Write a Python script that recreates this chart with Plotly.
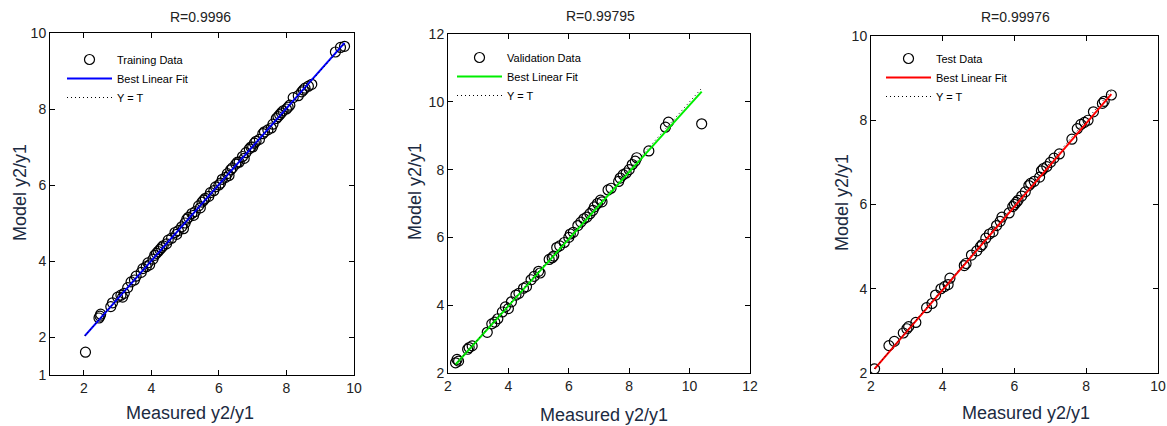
import plotly.graph_objects as go

W = 1167
H = 426

# ---- data ----
train_x = [2.05, 2.45, 2.48, 2.5, 2.8, 2.85, 3.0, 3.1, 3.15, 3.2, 3.3, 3.4, 3.5, 3.55, 3.7,
           3.75, 3.85, 3.9, 3.95, 4.05, 4.1, 4.15, 4.2, 4.25, 4.3, 4.35, 4.45, 4.5, 4.6, 4.7,
           4.75, 4.8, 4.9, 4.95, 5.0, 5.05, 5.1, 5.2, 5.25, 5.3, 5.4, 5.45, 5.5, 5.55, 5.6,
           5.7, 5.75, 5.85, 5.9, 6.0, 6.05, 6.1, 6.2, 6.25, 6.3, 6.35, 6.4, 6.5, 6.55, 6.6,
           6.7, 6.75, 6.8, 6.9, 6.95, 7.0, 7.05, 7.1, 7.2, 7.3, 7.35, 7.45, 7.55, 7.6, 7.7,
           7.75, 7.8, 7.85, 7.9, 8.0, 8.05, 8.1, 8.2, 8.35, 8.45, 8.5, 8.55, 8.65, 8.75,
           9.45, 9.6, 9.72]
train_y = [1.6, 2.5, 2.55, 2.6, 2.8, 2.9, 3.05, 3.1, 3.05, 3.15, 3.3, 3.45, 3.5, 3.6, 3.7,
           3.8, 3.85, 3.95, 3.9, 4.05, 4.15, 4.2, 4.25, 4.3, 4.35, 4.4, 4.45, 4.55, 4.6, 4.75,
           4.7, 4.8, 4.9, 4.85, 5.0, 5.1, 5.15, 5.25, 5.2, 5.3, 5.45, 5.4, 5.55, 5.6, 5.65,
           5.7, 5.8, 5.85, 5.95, 6.0, 6.05, 6.15, 6.2, 6.3, 6.25, 6.4, 6.45, 6.55, 6.6, 6.6,
           6.75, 6.7, 6.85, 6.95, 7.0, 7.0, 7.1, 7.15, 7.2, 7.35, 7.4, 7.45, 7.5, 7.6, 7.75,
           7.8, 7.85, 7.9, 7.95, 8.0, 8.05, 8.1, 8.3, 8.35, 8.45, 8.5, 8.55, 8.6, 8.65,
           9.5, 9.62, 9.65]
train_fit_x = [2.03, 9.72]
train_fit_y = [2.03, 9.74]
train_yt = [2.03, 9.72]

val_x = [2.25, 2.3, 2.35, 2.65, 2.7, 2.8, 3.3, 3.45, 3.55, 3.65, 3.8, 3.9, 4.0, 4.1, 4.25,
         4.35, 4.5, 4.6, 4.75, 4.85, 5.0, 5.05, 5.35, 5.45, 5.5, 5.6, 5.7, 5.85, 6.0, 6.05,
         6.15, 6.3, 6.4, 6.5, 6.6, 6.7, 6.8, 6.85, 6.95, 7.05, 7.1, 7.3, 7.4, 7.65, 7.7,
         7.8, 7.9, 8.0, 8.1, 8.2, 8.25, 8.65, 9.2, 9.3, 10.4]
val_y = [2.3, 2.4, 2.35, 2.7, 2.75, 2.8, 3.2, 3.45, 3.5, 3.6, 3.8, 3.95, 3.9, 4.1, 4.3,
         4.35, 4.5, 4.55, 4.75, 4.85, 5.0, 4.95, 5.35, 5.4, 5.45, 5.7, 5.75, 5.85, 6.0, 6.1,
         6.15, 6.35, 6.45, 6.55, 6.6, 6.7, 6.8, 6.9, 7.0, 7.1, 7.05, 7.4, 7.45, 7.65, 7.75,
         7.85, 7.9, 8.0, 8.15, 8.25, 8.35, 8.55, 9.25, 9.4, 9.35]
val_fit_x = [2.25, 10.4]
val_fit_y = [2.25, 10.3]
val_yt = [2.25, 10.4]

test_x = [2.1, 2.5, 2.65, 2.9, 3.0, 3.05, 3.25, 3.55, 3.7, 3.8, 3.95, 4.05, 4.15, 4.2,
          4.6, 4.65, 4.8, 4.95, 5.05, 5.1, 5.2, 5.3, 5.4, 5.5, 5.6, 5.65, 5.85, 5.95, 6.0,
          6.05, 6.1, 6.2, 6.3, 6.4, 6.45, 6.55, 6.7, 6.75, 6.8, 6.9, 7.0, 7.1, 7.25, 7.6,
          7.75, 7.85, 7.95, 8.05, 8.2, 8.45, 8.5, 8.7]
test_y = [2.1, 2.65, 2.75, 2.95, 3.05, 3.1, 3.2, 3.55, 3.65, 3.85, 4.0, 4.05, 4.1, 4.25,
          4.55, 4.6, 4.8, 4.9, 5.0, 5.05, 5.2, 5.3, 5.35, 5.5, 5.6, 5.7, 5.8, 5.95, 6.0,
          6.05, 6.1, 6.2, 6.3, 6.45, 6.5, 6.55, 6.65, 6.8, 6.85, 6.9, 7.0, 7.1, 7.2, 7.55,
          7.8, 7.9, 7.95, 8.0, 8.2, 8.4, 8.45, 8.6]
test_fit_x = [2.1, 8.7]
test_fit_y = [2.1, 8.62]
test_yt = [2.1, 8.7]

titles = ['R=0.9996', 'R=0.99795', 'R=0.99976']
data_names = ['Training Data', 'Validation Data', 'Test Data']
fit_colors = ['#0000ff', '#00ee00', '#ff0000']
x_ranges = [[1, 10], [2, 12], [2, 10]]
y_ranges = [[1, 10], [2, 12], [2, 10]]
x_ticks = [[2, 4, 6, 8, 10], [2, 4, 6, 8, 10, 12], [2, 4, 6, 8, 10]]
y_ticks = [[1, 2, 4, 6, 8, 10], [2, 4, 6, 8, 10, 12], [2, 4, 6, 8, 10]]

# plot boxes in pixels (left, right, top, bottom)
boxes = [(50, 354, 33, 375), (448, 750, 34, 373), (871, 1158, 36, 373)]
title_pos = [(200, 17), (600, 16), (1015, 17)]
xtitle_pos = [(190, 413), (604, 415), (1026, 413)]
ytitle_pos = [(20, 193), (415, 192), (842, 203)]
legend_pos = [(62, 45), (452, 43), (881, 44)]

TXT = '#1b2a41'
FONT = 'Liberation Sans, Arial, sans-serif'


def px(x):
    return x / W


def py(y):
    return 1 - y / H


panels = [
    (train_x, train_y, train_fit_x, train_fit_y, train_yt),
    (val_x, val_y, val_fit_x, val_fit_y, val_yt),
    (test_x, test_y, test_fit_x, test_fit_y, test_yt),
]

fig = go.Figure()
annotations = []
layout = {}

for i, (xs, ys, fx, fy, yt) in enumerate(panels):
    n = '' if i == 0 else str(i + 1)
    leg = 'legend' + n
    xa, ya = 'x' + n, 'y' + n

    fig.add_trace(go.Scatter(
        x=xs, y=ys, mode='markers', name=data_names[i], legend=leg,
        marker=dict(symbol='circle-open', size=10, color='black', line=dict(width=1.2)),
        xaxis=xa, yaxis=ya))
    fig.add_trace(go.Scatter(
        x=fx, y=fy, mode='lines', name='Best Linear Fit', legend=leg,
        line=dict(color=fit_colors[i], width=2), xaxis=xa, yaxis=ya))
    fig.add_trace(go.Scatter(
        x=yt, y=yt, mode='lines', name='Y = T', legend=leg,
        line=dict(color='black', width=1, dash='1px,3px'), xaxis=xa, yaxis=ya))

    l, r, t, b = boxes[i]
    axis_common = dict(showline=True, mirror='ticks', linecolor='black', linewidth=1,
                       ticks='inside', ticklen=5, tickcolor='black', showgrid=False,
                       zeroline=False, automargin=False,
                       tickfont=dict(size=14, color='#222222'))
    layout['xaxis' + n] = dict(domain=[px(l), px(r)], range=x_ranges[i],
                               tickvals=x_ticks[i], anchor=ya, **axis_common)
    layout['yaxis' + n] = dict(domain=[py(b), py(t)], range=y_ranges[i],
                               tickvals=y_ticks[i], anchor=xa, **axis_common)

    lx, ly = legend_pos[i]
    layout[leg] = dict(x=px(lx), y=py(ly), xanchor='left', yanchor='top',
                       bgcolor='rgba(0,0,0,0)', font=dict(size=11, color='black'),
                       itemwidth=45, tracegroupgap=0)

    tx, ty = title_pos[i]
    annotations.append(dict(text=titles[i], x=px(tx), y=py(ty), xref='paper', yref='paper',
                            xanchor='center', yanchor='middle', showarrow=False,
                            font=dict(size=14, color='#222222')))
    tx, ty = xtitle_pos[i]
    annotations.append(dict(text='Measured y2/y1', x=px(tx), y=py(ty), xref='paper',
                            yref='paper', xanchor='center', yanchor='middle',
                            showarrow=False, font=dict(size=18, color=TXT)))
    tx, ty = ytitle_pos[i]
    annotations.append(dict(text='Model y2/y1', x=px(tx), y=py(ty), xref='paper',
                            yref='paper', xanchor='center', yanchor='middle',
                            showarrow=False, textangle=-90,
                            font=dict(size=18, color=TXT)))

fig.update_layout(
    width=W, height=H,
    margin=dict(l=0, r=0, t=0, b=0),
    paper_bgcolor='white', plot_bgcolor='white',
    font=dict(family=FONT),
    showlegend=True,
    annotations=annotations,
    **layout,
)

# the page body has a default 8px margin; drop it so the figure fills the window
fig.write_html("out.html", config={'displayModeBar': False},
               post_script="document.body.style.margin = '0';")
